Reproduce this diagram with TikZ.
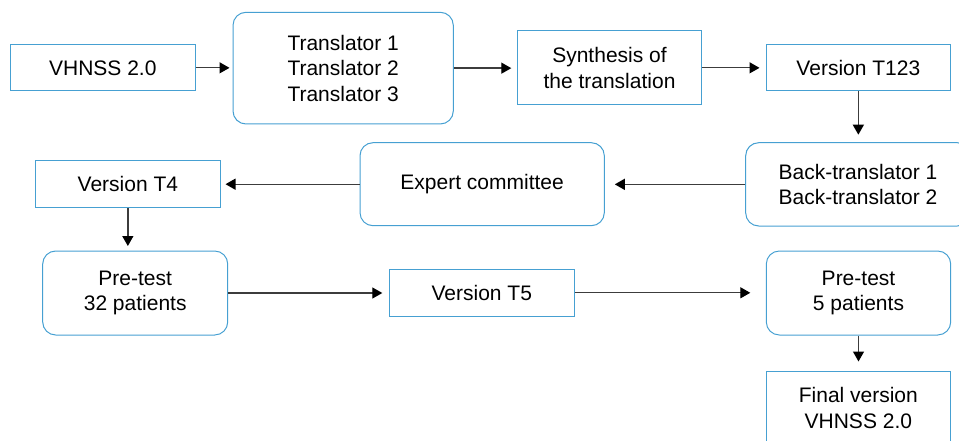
\documentclass[tikz,border=0pt]{standalone}
\usepackage{fontspec}
\setmainfont{Liberation Sans}
\usetikzlibrary{arrows.meta}
\definecolor{boxblue}{RGB}{70,160,210}
\definecolor{linegray}{RGB}{60,60,60}
\tikzset{
  box/.style={draw=boxblue, line width=1pt, rectangle, align=center, inner sep=0pt,
    font=\fontsize{21}{25.5}\selectfont, text=black},
  rbox/.style={box, rounded corners=13pt},
  conn/.style={draw=linegray, line width=1.3pt,
    -{Triangle[length=10pt,width=11pt,color=black]}}
}
\begin{document}
\begin{tikzpicture}[x=1pt,y=-1pt]
\useasboundingbox (0,0) rectangle (959,441);
\clip (0,0) rectangle (959,441);
% row 1
\node[box, minimum width=184.3pt, minimum height=45.7pt] (v) at (102.85,67.85) {VHNSS 2.0};
\node[rbox, minimum width=220.3pt, minimum height=111.7pt] (tr) at (343.15,68.15) {Translator 1\\Translator 2\\Translator 3};
\node[box, minimum width=184.4pt, minimum height=74.3pt] (syn) at (609.5,67.85) {Synthesis of\\the translation};
\node[box, minimum width=184.7pt, minimum height=46.4pt] (t123) at (858.35,67.5) {Version T123};
% row 2
\node[rbox, minimum width=224.6pt, minimum height=83.3pt] (back) at (858,184.35) {Back-translator 1\\Back-translator 2};
\node[rbox, minimum width=244.3pt, minimum height=83pt] (ex) at (482.15,184.2) {Expert committee};
\node[box, minimum width=184.3pt, minimum height=46.6pt] (t4) at (127.85,184) {Version T4};
% row 3
\node[rbox, minimum width=185pt, minimum height=84pt] (p32) at (135.2,293) {Pre-test\\32 patients};
\node[box, minimum width=185pt, minimum height=47pt] (t5) at (481.8,292.8) {Version T5};
\node[rbox, minimum width=184.4pt, minimum height=84pt] (p5) at (858.5,293) {Pre-test\\5 patients};
% row 4
\node[box, minimum width=184.7pt, minimum height=74pt] (fin) at (858.35,408) {Final version\\VHNSS 2.0};
% connectors
\draw[conn, shorten >=3pt] (v.east) -- (v.east -| tr.west);
\draw[conn, shorten >=5.5pt] (tr.east) -- (tr.east -| syn.west);
\draw[conn, shorten >=6pt] (syn.east) -- (syn.east -| t123.west);
\draw[conn, shorten >=7.5pt] (t123.south) -- (t123.south |- back.north);
\draw[conn, shorten >=10pt] (back.west) -- (back.west -| ex.east);
\draw[conn, shorten >=5pt] (ex.west) -- (ex.west -| t4.east);
\draw[conn, shorten >=4.5pt] (t4.south) -- (t4.south |- p32.north);
\draw[conn, shorten >=6.5pt] (p32.east) -- (p32.east -| t5.west);
\draw[conn, shorten >=15.5pt] (t5.east) -- (t5.east -| p5.west);
\draw[conn, shorten >=9pt] (p5.south) -- (p5.south |- fin.north);
\end{tikzpicture}
\end{document}
